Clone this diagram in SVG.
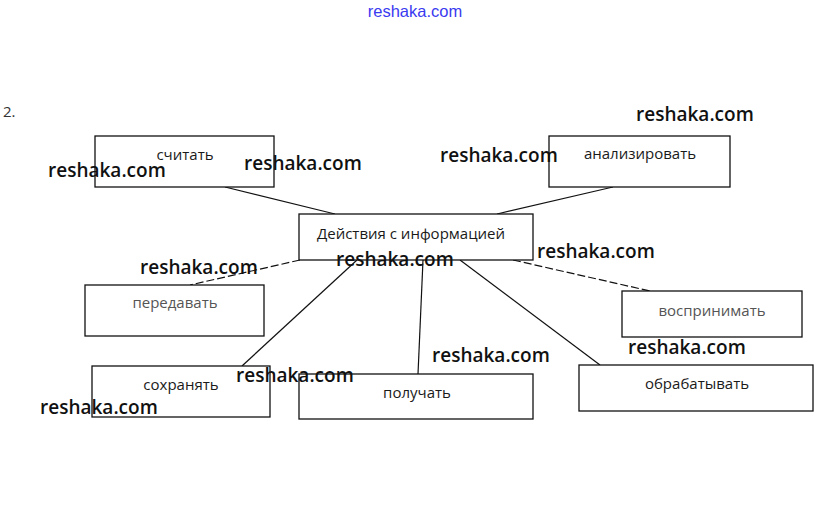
<svg xmlns="http://www.w3.org/2000/svg" width="828" height="524" viewBox="0 0 828 524">
<style>
.box{fill:#fff;stroke:#111;stroke-width:1.3}
.lbl{font-family:"Open Sans","Liberation Sans",sans-serif;font-size:15px;fill:#1a1a1a;text-anchor:middle}
.faint{fill:#555}
.con{stroke:#111;stroke-width:1.2;fill:none}
.wm{font-family:"Open Sans","Liberation Sans",sans-serif;font-size:19px;font-weight:600;fill:#111}
</style>
<rect width="828" height="524" fill="#fff"/>
<text x="415" y="17" font-family="Liberation Sans,sans-serif" font-size="16.5" fill="#3a3af0" text-anchor="middle">reshaka.com</text>
<text x="3" y="117" font-family="Open Sans,Liberation Sans,sans-serif" font-size="15" fill="#333">2.</text>
<g id="connectors">
<line class="con" x1="225" y1="187" x2="335" y2="214"/>
<line class="con" x1="613" y1="187" x2="497" y2="214"/>
<line class="con" x1="300" y1="260" x2="190" y2="285" stroke-dasharray="8 3"/>
<line class="con" x1="357" y1="260" x2="242" y2="366"/>
<line class="con" x1="423" y1="260" x2="418" y2="374"/>
<line class="con" x1="460" y1="260" x2="600" y2="365"/>
<line class="con" x1="513" y1="260" x2="650" y2="291" stroke-dasharray="8 3"/>
</g>
<g id="center">
<rect class="box" x="299" y="214" width="234" height="46"/>
<text class="lbl" x="411" y="239" font-size="15.6">Действия с информацией</text>
</g>
<g id="schitat">
<rect class="box" x="95" y="136" width="179" height="51"/>
<text class="lbl" x="185" y="160">считать</text>
</g>
<g id="analizirovat">
<rect class="box" x="549" y="136" width="181" height="51"/>
<text class="lbl" x="640" y="159">анализировать</text>
</g>
<g id="peredavat">
<rect class="box" x="85" y="285" width="179" height="51"/>
<text class="lbl faint" x="175" y="308">передавать</text>
</g>
<g id="vosprinimat">
<rect class="box" x="622" y="291" width="180" height="46"/>
<text class="lbl faint" x="712" y="316">воспринимать</text>
</g>
<g id="sohranyat">
<rect class="box" x="92" y="366" width="178" height="51"/>
<text class="lbl" x="181" y="390">сохранять</text>
</g>
<g id="poluchat">
<rect class="box" x="299" y="374" width="234" height="45"/>
<text class="lbl" x="417" y="398">получать</text>
</g>
<g id="obrabatyvat">
<rect class="box" x="579" y="365" width="234" height="46"/>
<text class="lbl" x="697" y="389">обрабатывать</text>
</g>
<g id="watermarks">
<text class="wm" x="636" y="121">reshaka.com</text>
<text class="wm" x="48" y="177">reshaka.com</text>
<text class="wm" x="244" y="170">reshaka.com</text>
<text class="wm" x="440" y="162">reshaka.com</text>
<text class="wm" x="537" y="258">reshaka.com</text>
<text class="wm" x="140" y="274">reshaka.com</text>
<text class="wm" x="336" y="266">reshaka.com</text>
<text class="wm" x="432" y="362">reshaka.com</text>
<text class="wm" x="628" y="354">reshaka.com</text>
<text class="wm" x="236" y="382">reshaka.com</text>
<text class="wm" x="40" y="414">reshaka.com</text>
</g>
</svg>
